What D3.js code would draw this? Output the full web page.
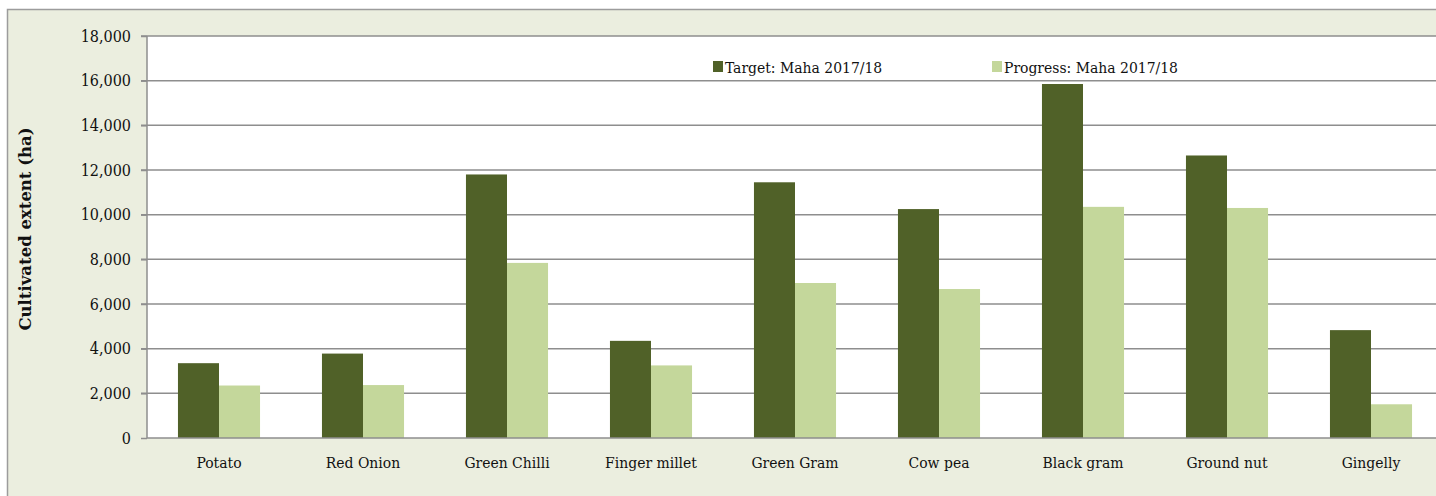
<!DOCTYPE html>
<html>
<head>
<meta charset="utf-8">
<script src="https://cdn.jsdelivr.net/npm/d3@7"></script>
<style>
  html, body { margin: 0; padding: 0; background: #fff; }
  svg { display: block; font-family: "DejaVu Serif Condensed", "DejaVu Serif", serif; }
</style>
</head>
<body>
<svg id="chart" width="1436" height="496"></svg>
<script>
// data
const crops = ['Potato', 'Red Onion', 'Green Chilli', 'Finger millet', 'Green Gram', 'Cow pea', 'Black gram', 'Ground nut', 'Gingelly'];
const target = [3350, 3780, 11800, 4350, 11450, 10250, 15850, 12650, 4830];
const progress = [2350, 2370, 7840, 3250, 6940, 6670, 10350, 10300, 1510];
const seriesNames = ['Target: Maha 2017/18', 'Progress: Maha 2017/18'];
const yTicks = [0, 2000, 4000, 6000, 8000, 10000, 12000, 14000, 16000, 18000];

const colors = ['#506128', '#c4d79b'];

const svg = d3.select('#chart');
const width = 1436, height = 496;

// outer frame
svg.append('rect')
  .attr('x', 7.5).attr('y', 9.5)
  .attr('width', width).attr('height', height)
  .attr('fill', '#ebeedf')
  .attr('stroke', '#9c9c9c')
  .attr('stroke-width', 1.5);

const padLeft = 147, padTop = 36, plotBottom = 438;
const plotRight = padLeft + 144 * crops.length;

// plot area
svg.append('rect')
  .attr('x', padLeft).attr('y', padTop)
  .attr('width', plotRight - padLeft).attr('height', plotBottom - padTop)
  .attr('fill', '#fff');

const x = d3.scaleBand()
  .domain(crops)
  .range([padLeft, plotRight])
  .paddingInner(0.43)
  .paddingOuter(0.215);

const x1 = d3.scaleBand()
  .domain([0, 1])
  .range([0, x.bandwidth()]);

const y = d3.scaleLinear()
  .domain([0, 18000])
  .range([plotBottom, padTop]);

// gridlines
svg.append('g')
  .selectAll('line')
  .data(yTicks.filter(d => d > 0))
  .join('line')
  .attr('x1', padLeft - 6).attr('x2', plotRight)
  .attr('y1', d => y(d)).attr('y2', d => y(d))
  .attr('stroke', '#8e8e8e')
  .attr('stroke-width', 1.5);

// bars
const groups = svg.append('g')
  .selectAll('g')
  .data(crops)
  .join('g')
  .attr('transform', d => `translate(${x(d)},0)`);

groups.selectAll('rect')
  .data((d, i) => [target[i], progress[i]])
  .join('rect')
  .attr('x', (d, j) => x1(j))
  .attr('width', x1.bandwidth())
  .attr('y', d => y(d))
  .attr('height', d => y(0) - y(d))
  .attr('fill', (d, j) => colors[j]);

// y axis
const yAxis = svg.append('g')
  .attr('transform', `translate(${padLeft},0)`)
  .call(d3.axisLeft(y).tickValues(yTicks).tickSize(6).tickPadding(10).tickFormat(d3.format(',')));
yAxis.select('.domain').attr('stroke', '#8e8e8e').attr('stroke-width', 1.5)
  .attr('d', `M0,${padTop}V${plotBottom}`);
yAxis.selectAll('.tick line').attr('stroke', '#8e8e8e').attr('stroke-width', 1.5);
yAxis.selectAll('text')
  .attr('font-family', '"DejaVu Serif Condensed", "DejaVu Serif", serif')
  .attr('font-size', 16)
  .attr('fill', '#111');

// x axis
const xAxis = svg.append('g')
  .attr('transform', `translate(0,${plotBottom})`)
  .call(d3.axisBottom(x).tickSize(0).tickPadding(19));
xAxis.select('.domain').attr('stroke', '#8e8e8e').attr('stroke-width', 1.5)
  .attr('d', `M${padLeft},0H${plotRight}`);
xAxis.selectAll('text')
  .attr('font-family', '"DejaVu Serif Condensed", "DejaVu Serif", serif')
  .attr('font-size', 15.5)
  .attr('fill', '#111');

// y title
svg.append('text')
  .attr('transform', `translate(31,${(padTop + plotBottom) / 2 - 8}) rotate(-90)`)
  .attr('text-anchor', 'middle')
  .attr('font-family', '"DejaVu Serif", serif')
  .attr('font-size', 16.5)
  .attr('font-weight', 'bold')
  .attr('fill', '#111')
  .text('Cultivated extent (ha)');

// legend
const legendX = [713, 992];
const legend = svg.append('g')
  .selectAll('g')
  .data(seriesNames)
  .join('g')
  .attr('transform', (d, i) => `translate(${legendX[i]},61)`);
legend.append('rect')
  .attr('width', 10).attr('height', 11)
  .attr('fill', (d, i) => colors[i]);
legend.append('text')
  .attr('x', 12).attr('y', 12)
  .attr('font-size', 15.5)
  .attr('fill', '#111')
  .text(d => d);
</script>
</body>
</html>
